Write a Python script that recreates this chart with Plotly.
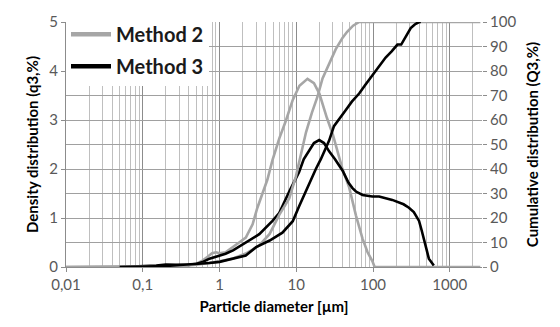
import plotly.graph_objects as go

# ---------------- data ----------------
# Method 2 - density distribution q3 (%), left axis
m2_q3_d = [0.01, 0.05, 0.1, 0.2, 0.3, 0.4, 0.5, 0.6, 0.7, 0.8, 0.9, 1.0, 1.2, 1.5, 1.8, 2.2,
           2.7, 3.1, 3.6, 4.2, 4.9, 6.0, 7.3, 9.0, 11.0, 14.0, 17.0, 20.0, 25.0, 30.0, 40.0,
           49.0, 60.0, 73.0, 85.0, 98.0, 105.0, 200.0, 500.0, 2500.0]
m2_q3 = [0, 0, 0.01, 0.02, 0.03, 0.04, 0.07, 0.13, 0.21, 0.28, 0.30, 0.28, 0.30, 0.40, 0.50, 0.60,
         0.87, 1.20, 1.47, 1.78, 2.18, 2.62, 2.98, 3.41, 3.70, 3.84, 3.75, 3.54, 3.05, 2.70, 2.00,
         1.62, 1.05, 0.58, 0.30, 0.12, 0, 0, 0, 0]

# Method 2 - cumulative distribution Q3 (%), right axis
m2_Q3_d = [0.01, 0.1, 0.3, 0.5, 0.8, 1.0, 1.5, 2.2, 3.3, 4.5, 6.0, 8.1, 9.9, 11.5, 13.4, 16.0,
           18.9, 22.0, 26.8, 32.6, 40.0, 46.0, 55.0, 66.0, 100.0, 2500.0]
m2_Q3 = [0, 0.1, 0.4, 0.9, 1.7, 2.3, 3.5, 5.5, 8.8, 13.5, 21.3, 28, 37, 46, 55, 63,
         69.5, 77, 82.8, 88.8, 93.5, 96, 98.5, 100, 100, 100]

# Method 3 - density distribution q3 (%), left axis
m3_q3_d = [0.05, 0.1, 0.15, 0.2, 0.3, 0.4, 0.5, 0.6, 0.74, 1.0, 1.2, 1.5, 2.2, 3.3, 4.9, 6.0,
           8.1, 10.9, 12.5, 14.7, 17.0, 19.9, 23.0, 26.8, 32.0, 40.0, 48.0, 54.0, 60.0, 73.0, 98.0,
           120.0, 178.0, 250.0, 294.0, 340.0, 398.0, 430.0, 460.0, 500.0, 534.0, 580.0, 620.0]
m3_q3 = [0, 0.01, 0.03, 0.05, 0.05, 0.04, 0.06, 0.10, 0.17, 0.24, 0.27, 0.34, 0.50, 0.67, 0.94, 1.10,
         1.54, 1.94, 2.20, 2.38, 2.53, 2.59, 2.53, 2.36, 2.20, 1.97, 1.72, 1.61, 1.54, 1.47, 1.44,
         1.44, 1.37, 1.28, 1.21, 1.12, 0.94, 0.75, 0.54, 0.35, 0.17, 0.08, 0.03]

# Method 3 - cumulative distribution Q3 (%), right axis
m3_Q3_d = [0.05, 0.1, 0.2, 0.3, 0.5, 0.74, 1.0, 1.5, 2.2, 3.0, 4.5, 6.6, 9.0, 10.9, 14.7, 18.0,
           20.9, 24.0, 26.8, 31.0, 37.0, 44.0, 53.0, 66.0, 80.0, 108.0, 125.0, 146.0, 175.0,
           208.0, 233.0, 240.0, 265.0, 310.0, 350.0, 398.0, 420.0]
m3_Q3 = [0, 0.1, 0.4, 0.8, 1.2, 1.6, 2.1, 3.3, 4.7, 8.1, 10.8, 14, 18.7, 24.8, 34, 40,
         44, 48, 51.6, 57.5, 61, 64, 67.5, 70.8, 74.5, 80, 82.8, 85.5, 88, 90.8, 90.8, 91.5,
         93.5, 97.5, 99, 100, 100]

x_tickvals = [0.01, 0.1, 1, 10, 100, 1000]
x_ticktext = ["0,01", "0,1", "1", "10", "100", "1000"]
y_left_ticks = [0, 1, 2, 3, 4, 5]
y_right_ticks = [0, 10, 20, 30, 40, 50, 60, 70, 80, 90, 100]
series_names = ["Method 2", "Method 3"]

# minor log grid values (2..9 per decade)
minor_vals = [m * 10.0 ** e for e in range(-2, 4) for m in range(2, 10)]

GRAY = "#a6a6a6"
BLACK = "#000000"
FONT = "Lato"

fig = go.Figure()

# plotted curves
fig.add_trace(go.Scatter(x=m2_q3_d, y=m2_q3, mode="lines", line=dict(color=GRAY, width=2.6),
                         showlegend=False, yaxis="y"))
fig.add_trace(go.Scatter(x=m2_Q3_d, y=m2_Q3, mode="lines", line=dict(color=GRAY, width=2.6),
                         showlegend=False, yaxis="y2"))
fig.add_trace(go.Scatter(x=m3_q3_d, y=m3_q3, mode="lines", line=dict(color=BLACK, width=2.6),
                         showlegend=False, yaxis="y"))
fig.add_trace(go.Scatter(x=m3_Q3_d, y=m3_Q3, mode="lines", line=dict(color=BLACK, width=2.6),
                         showlegend=False, yaxis="y2"))

# legend entries
for name, col in zip(series_names, [GRAY, BLACK]):
    fig.add_trace(go.Scatter(x=[None], y=[None], mode="lines", name=name,
                             legendgroup=name, line=dict(color=col, width=4.5)))

fig.update_layout(
    width=560, height=327,
    margin=dict(l=66, r=78, t=17, b=60),
    paper_bgcolor="white", plot_bgcolor="white",
    font=dict(family=FONT, size=15, color="#595959"),
    xaxis=dict(
        type="log", range=[-2, 3.42],
        tickvals=x_tickvals, ticktext=x_ticktext,
        showgrid=True, gridcolor="#8c8c8c", gridwidth=1,
        ticks="outside", ticklen=4, tickcolor="#8c8c8c",
        showline=True, linecolor="#8c8c8c", linewidth=1,
        minor=dict(tickvals=minor_vals, showgrid=True, gridcolor="#bfbfbf", gridwidth=1, ticks=""),
        title=dict(text="Particle diameter [µm]", font=dict(family=FONT, size=15, color="black", weight="bold"),
                   standoff=9),
        zeroline=False,
    ),
    yaxis=dict(
        range=[0, 5], tickvals=y_left_ticks,
        showgrid=True, gridcolor="#a0a0a0", gridwidth=1,
        minor=dict(dtick=0.5, showgrid=True, gridcolor="#a0a0a0", gridwidth=1, ticks=""),
        ticks="outside", ticklen=4, tickcolor="#8c8c8c",
        showline=True, linecolor="#8c8c8c", linewidth=1,
        title=dict(text="Density distribution (q3,%)", font=dict(family=FONT, size=15, color="black", weight="bold"),
                   standoff=7),
        zeroline=False,
    ),
    yaxis2=dict(
        range=[0, 100], tickvals=y_right_ticks, overlaying="y", side="right",
        showgrid=False,
        ticks="outside", ticklen=4, tickcolor="#8c8c8c",
        showline=False,
        title=dict(text="Cumulative distribution (Q3,%)", font=dict(family=FONT, size=15, color="black", weight="bold"),
                   standoff=12),
        zeroline=False,
    ),
    legend=dict(
        x=0.0, y=1.03, xanchor="left", yanchor="top",
        bgcolor="white", borderwidth=0,
        font=dict(family=FONT, size=20, color="#1a1a1a", weight="bold"),
        traceorder="grouped", tracegroupgap=3,
        itemwidth=40,
    ),
)

fig.write_html("out.html")
